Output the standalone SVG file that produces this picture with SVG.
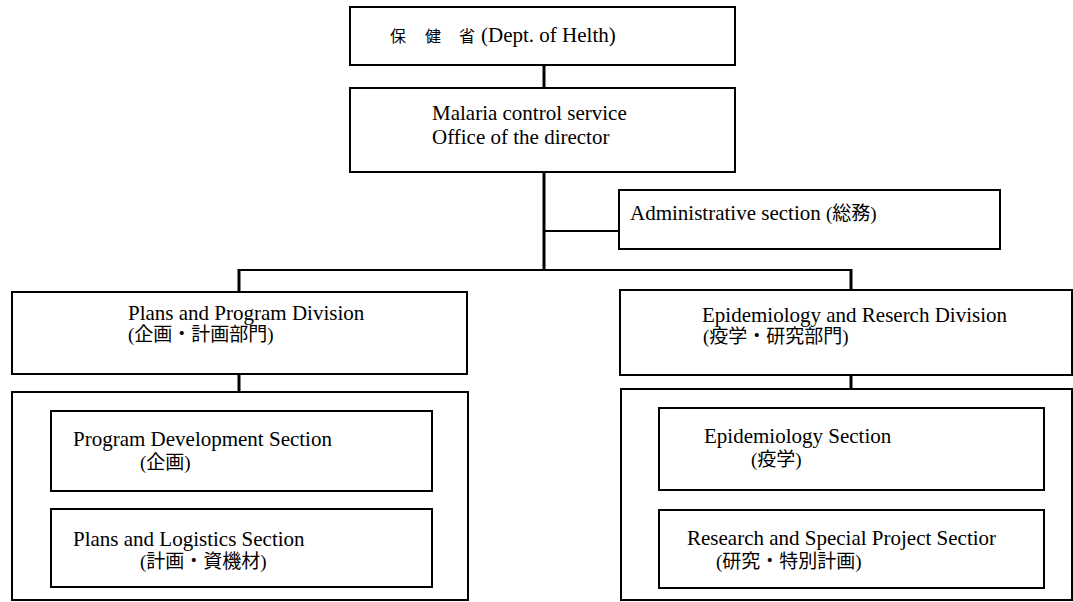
<svg xmlns="http://www.w3.org/2000/svg" width="1073" height="602" viewBox="0 0 1073 602">
<style>
.box{fill:#fff;stroke:#000;stroke-width:2}
.t{font-family:"Liberation Serif","Noto Sans CJK JP",serif;font-size:21px;fill:#000}
.j{font-family:"Liberation Serif","Noto Sans CJK JP",serif;font-size:19px;fill:#000}
.d{font-family:"Noto Sans CJK JP",serif;font-size:16px;fill:#000}
.c{stroke:#000;stroke-width:2;fill:none}
.v{stroke:#000;stroke-width:3;fill:none}
</style>
<rect width="1073" height="602" fill="#fff"/>
<g id="connectors">
<line class="v" x1="544" y1="65" x2="544" y2="88"/>
<line class="v" x1="544" y1="172" x2="544" y2="270"/>
<line class="c" x1="544" y1="231" x2="619" y2="231"/>
<line class="c" x1="238" y1="270" x2="852" y2="270"/>
<line class="v" x1="239" y1="269" x2="239" y2="292"/>
<line class="v" x1="851" y1="269" x2="851" y2="290"/>
<line class="v" x1="239" y1="374" x2="239" y2="392"/>
<line class="v" x1="851" y1="375" x2="851" y2="389"/>
</g>
<g id="dept">
<rect class="box" x="350" y="7" width="385" height="58"/>
<text class="t" y="42"><tspan class="d" x="390">保</tspan><tspan class="d" x="425">健</tspan><tspan class="d" x="459">省</tspan><tspan x="481">(Dept. of Helth)</tspan></text>
</g>
<g id="director">
<rect class="box" x="350" y="88" width="385" height="84"/>
<text class="t" x="432" y="120">Malaria control service</text>
<text class="t" x="432" y="144">Office of the director</text>
</g>
<g id="admin">
<rect class="box" x="619" y="190" width="381" height="59"/>
<text class="t" x="630" y="220">Administrative section <tspan class="j">(総務)</tspan></text>
</g>
<g id="plans-division">
<rect class="box" x="12" y="292" width="455" height="82"/>
<text class="t" x="128" y="320">Plans and Program Division</text>
<text class="j" x="128" y="341">(企画・計画部門)</text>
</g>
<g id="epi-division">
<rect class="box" x="620" y="290" width="452" height="85"/>
<text class="t" x="702" y="322">Epidemiology and Reserch Division</text>
<text class="j" x="703" y="343">(疫学・研究部門)</text>
</g>
<g id="plans-container">
<rect class="box" x="12" y="392" width="456" height="208"/>
</g>
<g id="program-dev">
<rect class="box" x="51" y="411" width="381" height="80"/>
<text class="t" x="73" y="446">Program Development Section</text>
<text class="j" x="140" y="469">(企画)</text>
</g>
<g id="logistics">
<rect class="box" x="51" y="509" width="381" height="78"/>
<text class="t" x="73" y="546">Plans and Logistics Section</text>
<text class="j" x="140" y="568">(計画・資機材)</text>
</g>
<g id="epi-container">
<rect class="box" x="621" y="389" width="451" height="211"/>
</g>
<g id="epi-section">
<rect class="box" x="659" y="408" width="385" height="82"/>
<text class="t" x="704" y="443">Epidemiology Section</text>
<text class="j" x="751" y="466">(疫学)</text>
</g>
<g id="research-section">
<rect class="box" x="659" y="510" width="385" height="78"/>
<text class="t" x="687" y="545">Research and Special Project Sectior</text>
<text class="j" x="716" y="568">(研究・特別計画)</text>
</g>
</svg>
